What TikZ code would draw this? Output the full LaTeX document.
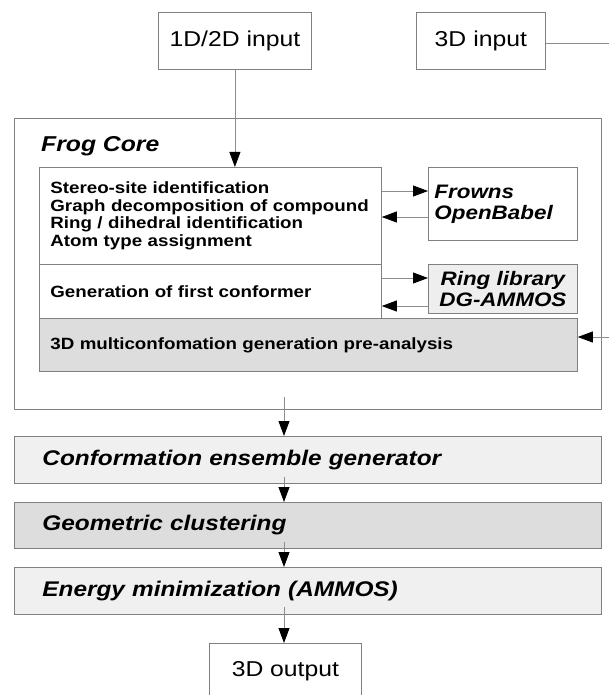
\documentclass[tikz,border=0pt]{standalone}
\usepackage{fontspec}
\setmainfont[FakeStretch=1.15]{Liberation Sans}
\usepackage{tikz}
\usetikzlibrary{arrows.meta}
\tikzset{> = {Triangle[length=15pt, width=11pt, color=black]},
  box/.style = {draw = gray, line width = 0.8pt, rectangle, anchor = north west, inner sep = 0pt},
  flow/.style = {->, draw = gray!90, line width = 0.8pt},
  plain/.style = {draw = gray!90, line width = 0.8pt},
  listfont/.style = {font = \fontsize{16.3}{17.7}\selectfont\bfseries},
  toolfont/.style = {font = \fontsize{19.5}{21}\selectfont\bfseries\itshape},
  stagefont/.style = {font = \fontsize{21.2}{23}\selectfont\bfseries\itshape}}

\begin{document}
\begin{tikzpicture}[x = 1pt, y = -1pt]
  \clip (0,0) rectangle (609,695);
  % inputs
  \node [box, minimum width = 153, minimum height = 57, font = \fontsize{21.5}{24}\selectfont] (in2d) at (158,12) {1D/2D input};
  \node [box, minimum width = 129, minimum height = 57, text width = 117, inner xsep = 6pt, align = center, font = \fontsize{21.5}{24}\selectfont] (in3d) at (416,12) {3D input\hspace*{12pt}};
  % frog core
  \node [box, minimum width = 587, minimum height = 291] (core) at (14,118) {};
  \node [anchor = west, inner sep = 0pt, font = \fontsize{21.5}{24}\selectfont\bfseries\itshape] (corename) at (41,146) {Frog Core};
  \node [box, listfont, minimum width = 342, minimum height = 97, text width = 324, inner xsep = 9pt, align = left] (steps) at (39,167)
    {\hspace*{2pt}Stereo-site identification\\\hspace*{2pt}Graph decomposition of compound\\\hspace*{2pt}Ring / dihedral identification\\\hspace*{2pt}Atom type assignment};
  \node [box, listfont, minimum width = 342, minimum height = 54, text width = 320, inner xsep = 11pt, align = left] (first) at (39,264)
    {Generation of first conformer};
  \node [box, listfont, fill = gray!27, minimum width = 538, minimum height = 53, text width = 516, inner xsep = 11pt, align = left] (pre) at (39,318)
    {3D multiconfomation generation pre-analysis};
  \node [box, toolfont, minimum width = 149, minimum height = 73, text width = 137, inner xsep = 6pt, align = left] (frowns) at (428,167)
    {Frowns\\OpenBabel};
  \node [box, toolfont, fill = gray!13, minimum width = 149, minimum height = 49, align = center] (ring) at (428,264)
    {Ring library\\DG-AMMOS};
  % stages
  \node [box, stagefont, fill = gray!12, minimum width = 587, minimum height = 47, text width = 531, inner xsep = 28pt, align = left] (ensemble) at (14,436)
    {Conformation ensemble generator};
  \node [box, stagefont, fill = gray!27, minimum width = 587, minimum height = 46, text width = 531, inner xsep = 28pt, align = left] (cluster) at (14,502)
    {Geometric clustering};
  \node [box, stagefont, fill = gray!12, minimum width = 587, minimum height = 47, text width = 531, inner xsep = 28pt, align = left] (energy) at (14,567)
    {Energy minimization (AMMOS)};
  \node [box, minimum width = 152, minimum height = 56, font = \fontsize{21.5}{24}\selectfont] (output) at (209,643) {3D output};
  \coordinate (edge) at (614,337);
  \coordinate (coreout) at (284,397);
  % paths
  \draw [flow] (in2d.south) -- (in2d.south |- steps.north);
  \draw [flow] ([yshift=-24pt]steps.north east) -- ([yshift=-24pt]frowns.north west);
  \draw [flow] ([yshift=-50pt]frowns.north west) -- ([yshift=-50pt]steps.north east);
  \draw [flow] ([yshift=-14pt]first.north east) -- ([yshift=-14pt]ring.north west);
  \draw [flow] ([yshift=-42pt]ring.north west) -- ([yshift=-42pt]first.north east);
  \draw [plain] ([yshift=-3pt]in3d.east) -| (edge);
  \draw [flow] (edge) -- (pre.east |- edge);
  \draw [flow] (coreout) -- (coreout |- ensemble.north);
  \draw [flow] ([yshift=7pt]coreout |- ensemble.south) -- (coreout |- cluster.north);
  \draw [flow] ([yshift=7pt]coreout |- cluster.south) -- (coreout |- energy.north);
  \draw [flow] ([yshift=8pt]coreout |- energy.south) -- (coreout |- output.north);
\end{tikzpicture}
\end{document}
